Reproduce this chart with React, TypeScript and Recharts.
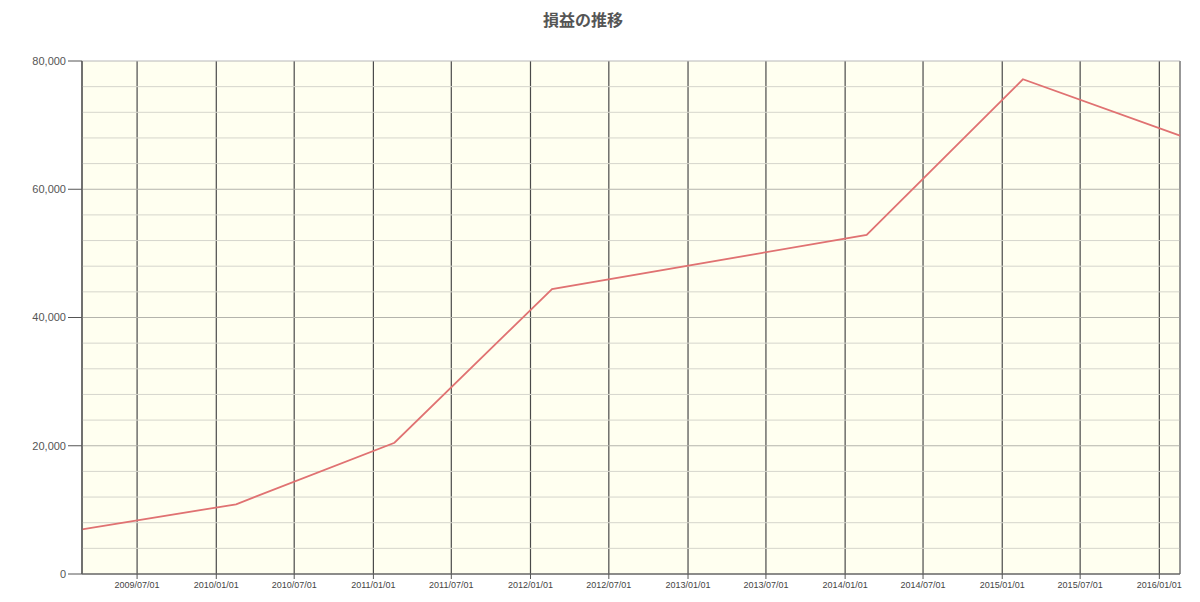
import React from 'react';
import { LineChart, Line, XAxis, YAxis, CartesianGrid, ReferenceLine } from 'recharts';

// data
const pointDates = ['2009/02/23', '2010/02/16', '2011/02/19', '2012/02/20', '2014/02/20', '2015/02/18', '2016/02/18'];
const profitValues = [6970, 10870, 20470, 44440, 52870, 77150, 68350];

const xTickLabels = [
  '2009/07/01', '2010/01/01', '2010/07/01', '2011/01/01', '2011/07/01', '2012/01/01', '2012/07/01',
  '2013/01/01', '2013/07/01', '2014/01/01', '2014/07/01', '2015/01/01', '2015/07/01', '2016/01/01',
];
const yMajorTicks = [0, 20000, 40000, 60000, 80000];
const yMinorLines = [4000, 8000, 12000, 16000, 24000, 28000, 32000, 36000, 44000, 48000, 52000, 56000, 64000, 68000, 72000, 76000];
const yMajorLines = [20000, 40000, 60000];

const toTs = (s: string) => {
  const [y, m, d] = s.split('/').map(Number);
  return Date.UTC(y, m - 1, d);
};
const pad = (n: number) => (n < 10 ? '0' + n : '' + n);
const fmtDate = (v: number) => {
  const d = new Date(v);
  return `${d.getUTCFullYear()}/${pad(d.getUTCMonth() + 1)}/${pad(d.getUTCDate())}`;
};

const data = pointDates.map((s, i) => ({ t: toTs(s), v: profitValues[i] }));
const xTicks = xTickLabels.map(toTs);

export default function App() {
  return (
    <div style={{ position: 'absolute', left: 0, top: 0, width: 1200, height: 602, background: '#fff', fontFamily: '"Liberation Sans", Arial, sans-serif' }}>
      <div
        style={{
          position: 'absolute', left: 0, top: 7, width: 1166, textAlign: 'center',
          fontFamily: '"Noto Sans CJK JP", sans-serif', fontWeight: 700, fontSize: 16, color: '#555', lineHeight: '24px',
        }}
      >
        損益の推移
      </div>
      <LineChart width={1200} height={602} data={data} margin={{ top: 61, right: 20, bottom: 4, left: 0 }}>
        <CartesianGrid horizontal={false} vertical stroke="#4a4a4a" strokeWidth={1.2} fill="#fffff0" fillOpacity={1} />
        {yMinorLines.map((y) => (
          <ReferenceLine key={'mi' + y} y={y} stroke="#d6d6cc" strokeWidth={1} />
        ))}
        {yMajorLines.map((y) => (
          <ReferenceLine key={'ma' + y} y={y} stroke="#b4b4ac" strokeWidth={1} />
        ))}
        <ReferenceLine y={80000} stroke="#b8b8b8" strokeWidth={1} />
        <ReferenceLine x={data[data.length - 1].t} stroke="#999" strokeWidth={1.5} />
        <XAxis
          type="number"
          dataKey="t"
          scale="time"
          domain={['dataMin', 'dataMax']}
          ticks={xTicks}
          interval={0}
          tickFormatter={fmtDate}
          tickSize={5}
          tickMargin={3}
          height={24}
          tick={{ fontSize: 9, fill: '#444' }}
          axisLine={{ stroke: '#666', strokeWidth: 1.5 }}
          tickLine={{ stroke: '#555' }}
        />
        <YAxis
          type="number"
          domain={[0, 80000]}
          ticks={yMajorTicks}
          interval={0}
          width={82}
          tickSize={14}
          tickMargin={2}
          tickFormatter={(v: number) => v.toLocaleString('en-US')}
          tick={{ fontSize: 11, fill: '#555' }}
          axisLine={{ stroke: '#666', strokeWidth: 1.5 }}
          tickLine={{ stroke: '#555' }}
        />
        <Line type="linear" dataKey="v" stroke="#e07272" strokeWidth={1.8} dot={false} isAnimationActive={false} />
      </LineChart>
    </div>
  );
}
